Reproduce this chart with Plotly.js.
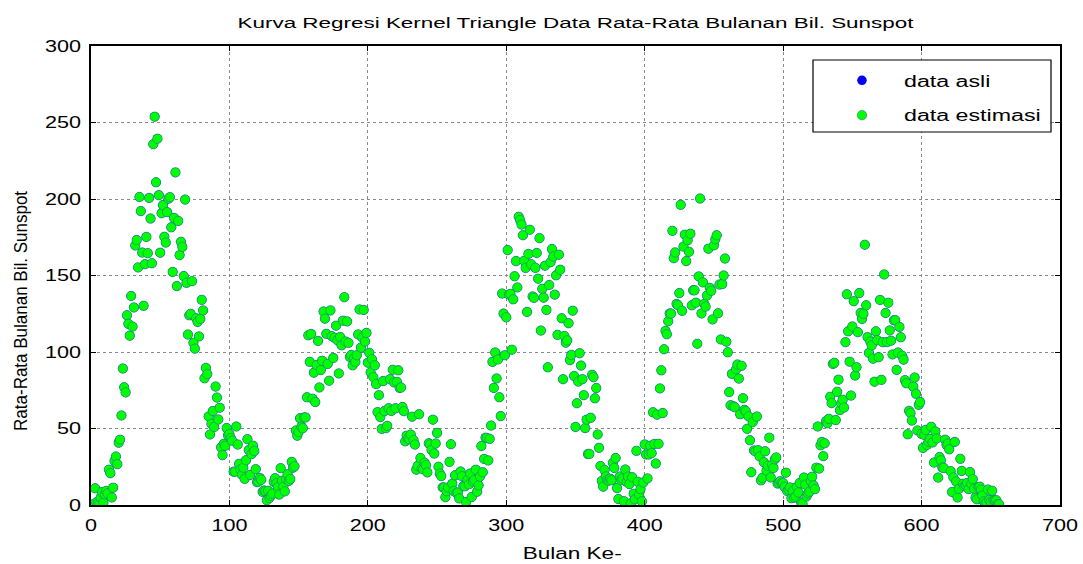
<!DOCTYPE html>
<html>
<head>
<meta charset="utf-8">
<script src="https://cdn.plot.ly/plotly-3.0.1.min.js"></script>
<style>
html, body { margin: 0; padding: 0; background: #ffffff; }
#chart { width: 1083px; height: 564px; }
</style>
</head>
<body>
<div id="chart"></div>
<script>
// Monthly mean sunspot numbers (month 1 .. 656)
const values1954to1963 = [
  0.2, 0.5, 10.9, 1.8, 0.8, 0.2, 4.8, 8.4, 1.5, 7.0, 9.2, 7.6,
  23.1, 20.8, 4.9, 11.3, 28.9, 31.7, 26.7, 40.7, 42.7, 58.5, 89.2, 76.9,
  73.6, 124.0, 118.4, 110.7, 136.6, 116.6, 129.1, 169.6, 173.2, 155.3, 201.3, 192.1,
  165.0, 130.2, 157.4, 175.2, 164.6, 200.7, 187.2, 158.0, 235.8, 253.8, 210.9, 239.4,
  202.5, 164.9, 190.7, 196.0, 175.3, 171.5, 191.4, 200.2, 201.2, 181.5, 152.3, 187.6,
  217.4, 143.1, 185.7, 163.3, 172.0, 168.7, 149.6, 199.6, 145.2, 111.4, 124.0, 125.0,
  146.3, 106.0, 102.2, 122.0, 119.6, 110.2, 121.7, 134.1, 127.2, 82.8, 89.6, 85.6,
  57.9, 46.1, 53.0, 61.4, 51.0, 77.4, 70.2, 55.9, 63.6, 37.7, 32.6, 40.0,
  38.7, 50.3, 45.6, 46.4, 43.7, 42.0, 21.8, 21.8, 51.3, 39.5, 26.9, 23.2,
  19.8, 24.4, 17.1, 29.3, 43.0, 35.9, 19.6, 33.2, 38.8, 35.3, 23.4, 14.9
];
const values1964to1973 = [
  15.3, 17.7, 16.5, 8.6, 9.5, 9.1, 3.1, 9.3, 4.7, 6.1, 7.4, 15.1,
  17.5, 14.2, 11.7, 6.8, 24.1, 15.9, 11.9, 8.9, 16.8, 20.1, 15.8, 17.0,
  28.2, 24.4, 25.3, 48.7, 45.3, 47.7, 56.7, 51.2, 50.2, 57.2, 57.2, 70.4,
  110.9, 93.6, 111.8, 69.5, 86.5, 67.3, 91.5, 107.2, 76.8, 88.2, 94.3, 126.4,
  121.8, 111.9, 92.2, 81.2, 127.2, 110.3, 96.1, 109.3, 117.2, 107.7, 86.0, 109.8,
  104.4, 120.5, 135.8, 106.8, 120.0, 106.0, 96.8, 98.0, 91.3, 95.7, 93.5, 97.9,
  111.5, 127.8, 102.9, 109.5, 127.5, 106.8, 112.5, 93.0, 99.5, 86.6, 95.2, 83.5,
  91.3, 79.0, 60.7, 71.8, 57.5, 49.8, 81.0, 61.4, 50.2, 51.7, 63.2, 82.2,
  61.5, 88.4, 80.1, 63.2, 80.5, 88.0, 76.5, 76.8, 64.0, 61.3, 41.6, 45.3,
  43.4, 42.9, 46.0, 57.7, 42.4, 39.5, 23.1, 25.6, 59.3, 30.7, 23.9, 23.3
];
const values1974to1983 = [
  27.6, 26.0, 21.3, 40.3, 39.5, 36.0, 55.8, 33.6, 40.2, 47.1, 25.0, 20.5,
  18.9, 11.5, 11.5, 5.1, 9.0, 11.4, 28.2, 39.7, 13.9, 9.1, 19.4, 7.8,
  8.1, 4.3, 21.9, 18.8, 12.4, 12.2, 1.9, 16.4, 13.5, 20.6, 5.2, 15.3,
  16.4, 23.1, 8.7, 12.9, 18.6, 38.5, 21.4, 30.1, 44.0, 43.8, 29.1, 43.2,
  51.9, 93.6, 76.5, 99.7, 82.7, 95.1, 70.4, 58.1, 138.2, 125.1, 97.9, 122.7,
  166.6, 137.5, 138.0, 101.5, 134.4, 149.5, 159.4, 142.2, 188.4, 186.2, 183.3, 176.3,
  159.6, 155.0, 126.2, 164.1, 179.9, 157.3, 136.3, 135.4, 155.0, 164.7, 147.9, 174.4,
  114.0, 141.3, 135.5, 156.4, 127.5, 90.0, 143.8, 158.7, 167.3, 162.4, 137.5, 150.1,
  111.2, 163.6, 153.8, 122.0, 82.2, 110.4, 106.1, 107.6, 118.8, 94.7, 98.1, 127.0,
  84.3, 51.0, 66.5, 80.7, 99.2, 91.1, 82.2, 71.8, 50.3, 55.8, 33.3, 33.4
];
const values1984to1993 = [
  57.0, 85.1, 83.5, 69.7, 76.4, 46.1, 37.4, 25.5, 15.7, 12.0, 22.8, 18.7,
  16.5, 15.9, 17.2, 16.2, 27.5, 24.2, 30.7, 11.1, 3.9, 18.6, 16.2, 17.3,
  2.5, 23.2, 15.1, 18.5, 13.7, 1.1, 18.1, 7.4, 3.8, 35.4, 15.2, 6.8,
  10.4, 2.4, 14.7, 39.6, 33.0, 17.4, 33.0, 38.7, 33.9, 60.6, 39.9, 27.1,
  59.0, 40.0, 76.2, 88.0, 60.1, 101.8, 113.8, 111.6, 120.1, 125.1, 125.1, 179.2,
  161.3, 165.1, 131.4, 130.6, 138.5, 196.2, 126.9, 168.9, 176.7, 159.4, 173.0, 165.5,
  177.3, 130.5, 140.3, 140.3, 132.2, 105.4, 149.4, 200.3, 125.2, 145.5, 131.4, 129.7,
  136.9, 167.5, 141.9, 140.0, 121.3, 169.7, 173.7, 176.3, 125.3, 144.1, 108.2, 144.4,
  150.0, 161.1, 106.7, 99.8, 73.8, 65.2, 85.7, 64.5, 63.9, 88.7, 91.8, 82.6,
  59.3, 91.0, 69.8, 62.2, 61.3, 49.8, 57.9, 42.3, 21.4, 54.1, 35.7, 35.0
];
const values1994to2003 = [
  57.8, 35.8, 31.7, 16.1, 17.8, 28.0, 35.1, 22.5, 25.7, 44.0, 18.0, 26.2,
  24.2, 29.9, 31.1, 14.0, 14.5, 15.6, 14.5, 14.3, 11.8, 21.1, 9.0, 10.0,
  11.5, 4.4, 9.2, 4.8, 5.5, 11.8, 8.2, 14.4, 1.6, 0.9, 17.9, 13.3,
  5.7, 7.6, 8.7, 15.5, 18.5, 12.7, 10.4, 24.4, 51.3, 23.8, 39.0, 41.2,
  31.9, 40.3, 54.8, 53.4, 56.3, 70.7, 66.6, 92.2, 92.9, 55.5, 74.0, 81.9,
  62.0, 66.3, 68.8, 63.7, 106.4, 137.7, 113.5, 93.7, 71.5, 116.7, 133.2, 84.6,
  90.1, 112.9, 138.5, 125.5, 121.6, 124.9, 170.1, 130.5, 109.7, 99.4, 106.8, 104.4,
  95.6, 80.6, 113.5, 107.7, 96.6, 134.0, 81.8, 106.4, 150.7, 125.5, 106.5, 132.2,
  114.1, 107.4, 98.4, 120.7, 120.8, 88.3, 99.6, 116.4, 109.6, 97.5, 95.0, 81.6,
  79.5, 46.2, 61.5, 60.0, 55.2, 77.4, 83.3, 72.7, 48.7, 65.5, 67.3, 46.5
];
const values2004to2008 = [
  37.3, 45.8, 49.1, 39.3, 41.5, 43.2, 51.1, 40.9, 27.7, 48.0, 43.5, 17.9,
  31.3, 29.2, 24.5, 24.2, 42.7, 39.3, 40.1, 36.4, 22.1, 8.5, 18.0, 41.2,
  15.3, 4.9, 10.6, 30.2, 22.3, 13.9, 12.2, 12.9, 14.4, 10.4, 21.5, 13.6,
  16.9, 10.6, 4.8, 3.7, 11.7, 12.0, 10.0, 6.2, 2.4, 0.9, 1.7, 10.1,
  3.3, 2.1, 9.3, 2.9, 2.9, 3.1, 0.5, 0.5
];

const dataAsli = [].concat(values1954to1963, values1964to1973, values1974to1983,
                           values1984to1993, values1994to2003, values2004to2008);
const dataEstimasi = dataAsli.slice();
const bulanKe = dataAsli.map((_, i) => i + 1);

const xTicks = [0, 100, 200, 300, 400, 500, 600, 700];
const yTicks = [0, 50, 100, 150, 200, 250, 300];

const font = 'Liberation Sans, Arial, Helvetica, sans-serif';

const traces = [
  {
    type: 'scatter', mode: 'markers', name: 'data asli',
    x: bulanKe, y: dataAsli, legendgroup: 'asli',
    marker: { color: '#0000ff', size: 9.5 },
    hoverinfo: 'x+y'
  },
  {
    type: 'scatter', mode: 'markers', name: 'data estimasi',
    x: bulanKe, y: dataEstimasi, legendgroup: 'estimasi',
    marker: { color: '#00ff00', size: 9.5, line: { color: '#24699a', width: 0.55 } },
    hoverinfo: 'x+y'
  }
];

const axisCommon = {
  showgrid: true, gridcolor: '#8a8a8a', griddash: 'dot', gridwidth: 1,
  showline: true, linecolor: '#000000', linewidth: 1.5, mirror: 'ticks',
  ticks: 'inside', ticklen: 5, tickwidth: 1, tickcolor: '#000000',
  zeroline: false, tickfont: { family: font, size: 16, color: '#000000' }
};

const layout = {
  width: 1083, height: 564,
  margin: { l: 91, r: 23, t: 46, b: 59, pad: 0 },
  paper_bgcolor: '#ffffff', plot_bgcolor: '#ffffff',
  title: {
    text: 'Kurva Regresi Kernel Triangle Data Rata-Rata Bulanan Bil. Sunspot',
    font: { family: font, size: 14, color: '#000000' },
    x: 0.5, xref: 'paper', xanchor: 'center',
    y: 1 - 23 / 564, yref: 'container', yanchor: 'middle'
  },
  xaxis: Object.assign({}, axisCommon, {
    range: [0, 700], tickmode: 'array', tickvals: xTicks, ticktext: xTicks.map(String),
    ticklabelstandoff: 5
  }),
  yaxis: Object.assign({}, axisCommon, {
    range: [0, 300], tickmode: 'array', tickvals: yTicks, ticktext: yTicks.map(String),
    ticklabelstandoff: 5
  }),
  showlegend: true,
  legend: {
    x: 0.7523, xanchor: 'left', y: 0.962, yanchor: 'top',
    bgcolor: 'rgba(0,0,0,0)', borderwidth: 0,
    font: { family: font, size: 16, color: '#000000' },
    itemwidth: 74, tracegroupgap: 11, traceorder: 'grouped'
  },
  shapes: [{
    type: 'rect', xref: 'paper', yref: 'paper', layer: 'above',
    x0: (813 - 91) / 969, x1: (1051 - 91) / 969,
    y0: (505 - 132) / 459, y1: (505 - 60) / 459,
    line: { color: '#000000', width: 1.2 }, fillcolor: '#ffffff'
  }],
  annotations: [
    {
      text: 'Bulan Ke-', showarrow: false, xref: 'paper', yref: 'paper',
      x: (572 - 91) / 969, y: (505 - 553) / 459, xanchor: 'center', yanchor: 'middle',
      font: { family: font, size: 16, color: '#000000' }
    },
    {
      text: 'Rata-Rata Bulanan Bil. Sunspot', showarrow: false, xref: 'paper', yref: 'paper',
      x: (21 - 91) / 969, y: (505 - 311) / 459, xanchor: 'center', yanchor: 'middle',
      textangle: -90, font: { family: font, size: 18, color: '#000000' }
    }
  ]
};

// Widen text horizontally the way the reference renders its (wide) lettering
function stretchText(gd) {
  const setLen = (el, len) => {
    el.setAttribute('textLength', len.toFixed(1));
    el.setAttribute('lengthAdjust', 'spacingAndGlyphs');
  };
  const scale = (el, k) => {
    el.removeAttribute('textLength');
    const L = el.getComputedTextLength();
    if (L > 0) setLen(el, L * k);
  };
  gd.querySelectorAll('.xtick text, .ytick text').forEach(el => scale(el, 1.35));
  gd.querySelectorAll('.legendtext').forEach(el => scale(el, 1.45));
  const t = gd.querySelector('.gtitle');
  if (t) setLen(t, 676);
  const a0 = gd.querySelector('g.annotation[data-index="0"] text');
  if (a0) setLen(a0, 99);
  const a1 = gd.querySelector('g.annotation[data-index="1"] text');
  if (a1) setLen(a1, 240);
  gd.querySelectorAll('.legend [clip-path]').forEach(el => el.removeAttribute('clip-path'));
}

Plotly.newPlot('chart', traces, layout, { displayModeBar: false }).then(gd => {
  stretchText(gd);
  gd.on('plotly_afterplot', () => stretchText(gd));
});
</script>
</body>
</html>
